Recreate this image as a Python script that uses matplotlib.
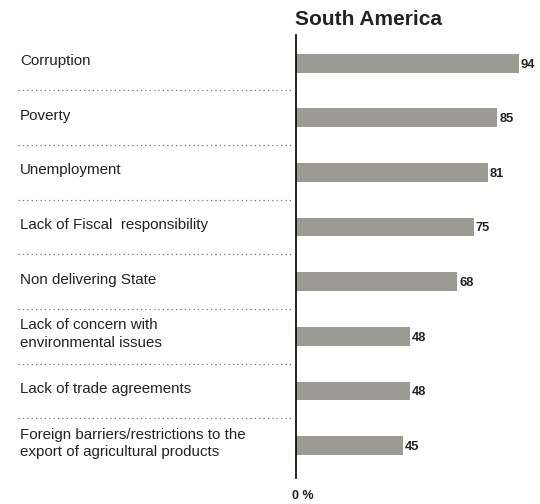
import matplotlib.pyplot as plt
from matplotlib.transforms import blended_transform_factory

plt.rcParams['font.family'] = ['Liberation Sans', 'DejaVu Sans']

categories = [
    "Corruption",
    "Poverty",
    "Unemployment",
    "Lack of Fiscal  responsibility",
    "Non delivering State",
    "Lack of concern with\nenvironmental issues",
    "Lack of trade agreements",
    "Foreign barriers/restrictions to the\nexport of agricultural products",
]
values = [94, 85, 81, 75, 68, 48, 48, 45]

bar_color = '#9c9b93'

fig = plt.figure(figsize=(5.4, 5.04), dpi=100)
ax = fig.add_axes([0.548, 0.052, 0.439, 0.879])

pos = list(range(len(categories)))
ax.barh(pos, values, height=0.345, color=bar_color, zorder=2)
for y, v in zip(pos, values):
    ax.annotate(str(v), xy=(v, y), xytext=(1.5, -1), textcoords='offset points',
                ha='left', va='center', fontsize=9.3, fontweight='bold',
                color='#222222')

ax.set_xlim(0, 100)
ax.set_ylim(7.59, -0.52)

for s in ['top', 'right', 'bottom']:
    ax.spines[s].set_visible(False)
ax.spines['left'].set_linewidth(1.2)
ax.set_xticks([])
ax.set_yticks([])

# category labels and dotted separators on the left side
trans = blended_transform_factory(fig.transFigure, ax.transData)
for y, label in zip(pos, categories):
    ax.text(0.037, y - 0.04, label, transform=trans, ha='left', va='center',
            fontsize=10.9, color='#222222', linespacing=1.3)
for y in pos[:-1]:
    ax.plot([0.034, 0.542], [y + 0.5, y + 0.5], transform=trans,
            linestyle=(0, (1, 2.5)), color='#777777', linewidth=0.9,
            clip_on=False)

fig.text(0.546, 0.962, "South America", ha='left', va='center',
         fontsize=15, fontweight='bold', color='#222222')
fig.text(0.540, 0.016, "0 %", ha='left', va='center',
         fontsize=9, fontweight='bold', color='#222222')

fig.savefig('out.png', dpi=100)
